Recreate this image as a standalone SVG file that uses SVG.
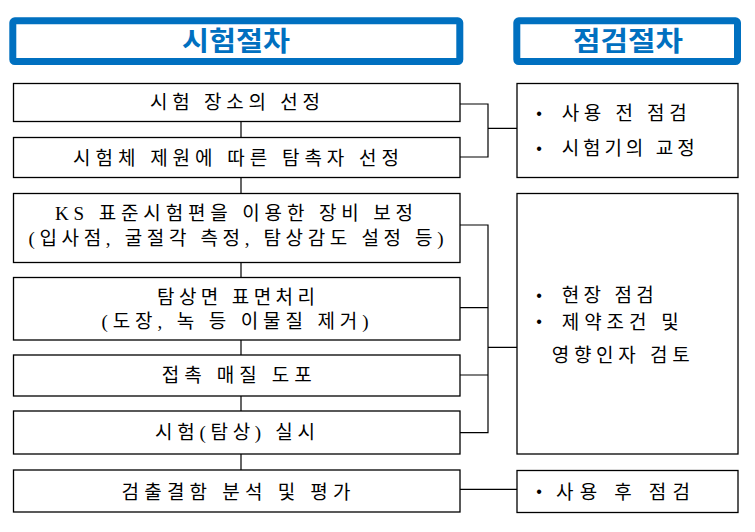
<svg xmlns="http://www.w3.org/2000/svg" width="755" height="532" viewBox="0 0 755 532">
<style>
.hdr{fill:#fff;stroke:#0070C0;stroke-width:7;}
.ttl{font-family:"Noto Sans CJK KR","Noto Sans",sans-serif;font-weight:bold;font-size:27px;fill:#0070C0;text-anchor:middle;}
.box{fill:#fff;stroke:#000;stroke-width:1.3;}
.t{font-family:"Liberation Serif","Noto Sans CJK KR",serif;font-size:19px;fill:#000;}
.c{text-anchor:middle;}
.b{font-family:"Liberation Sans",sans-serif;font-size:16px;fill:#000;text-anchor:middle;}
.ln{fill:none;stroke:#000;stroke-width:1.2;}
</style>
<rect width="755" height="532" fill="#fff"/>
<g id="header-test">
<rect class="hdr" x="12.8" y="20.8" width="447" height="40.7" rx="2"/>
<text class="ttl" x="236" y="51" textLength="108" lengthAdjust="spacingAndGlyphs">시험절차</text>
</g>
<g id="header-check">
<rect class="hdr" x="516.8" y="20.8" width="220.7" height="40.7" rx="2"/>
<text class="ttl" x="628" y="51" textLength="110" lengthAdjust="spacingAndGlyphs">점검절차</text>
</g>
<g id="connectors">
<path class="ln" d="M241 121.3V137.5M241 177.5V193.5M241 262.5V277.5M241 340V355M241 396V411M241 454V470"/>
<path class="ln" d="M460 104H488V157H460M488 128.3H517"/>
<path class="ln" d="M460 225H488V432.7H460M460 307.7H488M460 375H488M488 347.3H517"/>
<path class="ln" d="M460 489.3H517"/>
</g>
<g id="step1">
<rect class="box" x="13.5" y="83.5" width="446.5" height="38"/>
<text class="t c" x="235" y="108.6" textLength="170" lengthAdjust="spacing">시험 장소의 선정</text>
</g>
<g id="step2">
<rect class="box" x="13.5" y="137.5" width="446.5" height="40"/>
<text class="t c" x="236" y="164.9" textLength="326" lengthAdjust="spacing">시험체 제원에 따른 탐촉자 선정</text>
</g>
<g id="step3">
<rect class="box" x="13.5" y="193.5" width="446.5" height="69"/>
<text class="t c" x="234" y="220.2" textLength="358" lengthAdjust="spacing">KS 표준시험편을 이용한 장비 보정</text>
<text class="t c" x="236" y="245.2" textLength="415" lengthAdjust="spacing">(입사점, 굴절각 측정, 탐상감도 설정 등)</text>
</g>
<g id="step4">
<rect class="box" x="13.5" y="277.5" width="446.5" height="62.5"/>
<text class="t c" x="236" y="303.6" textLength="158" lengthAdjust="spacing">탐상면 표면처리</text>
<text class="t c" x="235" y="327.9" textLength="267" lengthAdjust="spacing">(도장, 녹 등 이물질 제거)</text>
</g>
<g id="step5">
<rect class="box" x="13.5" y="355" width="446.5" height="41"/>
<text class="t c" x="236.7" y="381.9" textLength="150" lengthAdjust="spacing">접촉 매질 도포</text>
</g>
<g id="step6">
<rect class="box" x="13.5" y="411" width="446.5" height="43"/>
<text class="t c" x="235" y="438.6" textLength="160" lengthAdjust="spacing">시험(탐상) 실시</text>
</g>
<g id="step7">
<rect class="box" x="13.5" y="470" width="446.5" height="42"/>
<text class="t c" x="236" y="498.6" textLength="229" lengthAdjust="spacing">검출결함 분석 및 평가</text>
</g>
<g id="check1">
<rect class="box" x="517" y="83.5" width="221" height="94"/>
<text class="b" x="539" y="119">•</text>
<text class="t" x="561.7" y="120.2" textLength="125" lengthAdjust="spacing">사용 전 점검</text>
<text class="b" x="539" y="154">•</text>
<text class="t" x="561.7" y="155.2" textLength="133" lengthAdjust="spacing">시험기의 교정</text>
</g>
<g id="check2">
<rect class="box" x="517" y="193.5" width="221" height="260.5"/>
<text class="b" x="539" y="300.7">•</text>
<text class="t" x="561.7" y="301.9" textLength="92" lengthAdjust="spacing">현장 점검</text>
<text class="b" x="539" y="327.4">•</text>
<text class="t" x="561.7" y="328.6" textLength="117" lengthAdjust="spacing">제약조건 및</text>
<text class="t" x="551.7" y="361.9" textLength="138" lengthAdjust="spacing">영향인자 검토</text>
</g>
<g id="check3">
<rect class="box" x="517" y="470.5" width="221" height="42"/>
<text class="b" x="539" y="497.4">•</text>
<text class="t" x="556" y="498.6" textLength="134" lengthAdjust="spacing">사용 후 점검</text>
</g>
</svg>
